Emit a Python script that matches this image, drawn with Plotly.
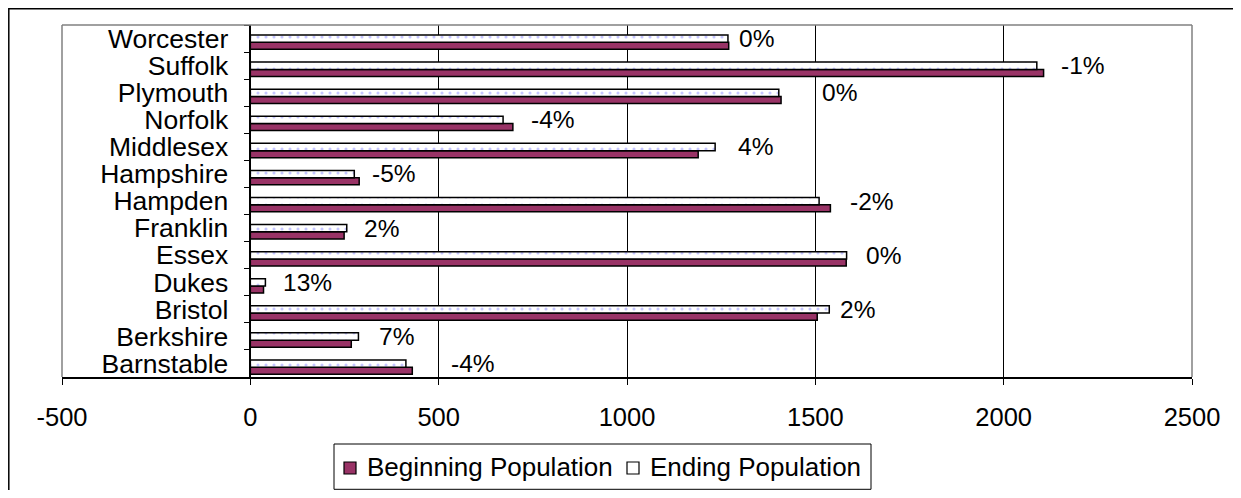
import plotly.graph_objects as go

# ---------------- data ----------------
counties = ["Barnstable", "Berkshire", "Bristol", "Dukes", "Essex", "Franklin",
            "Hampden", "Hampshire", "Middlesex", "Norfolk", "Plymouth", "Suffolk", "Worcester"]
beginning_pop = [430, 268, 1505, 35, 1582, 249, 1540, 289, 1189, 697, 1409, 2106, 1270]
ending_pop = [413, 287, 1537, 40, 1583, 256, 1510, 276, 1234, 671, 1403, 2088, 1268]
pct_labels = ["-4%", "7%", "2%", "13%", "0%", "2%", "-2%", "-5%", "4%", "-4%", "0%", "-1%", "0%"]
x_ticks = [-500, 0, 500, 1000, 1500, 2000, 2500]
series_names = ["Beginning Population", "Ending Population"]

# ---------------- style ----------------
FONT = "Liberation Sans, Arial, sans-serif"
MAROON = "#993366"
PAGE_OFF = 8                      # default body margin of the html page
W, H = 1241 - 2 * PAGE_OFF, 498 - 2 * PAGE_OFF
PL, PR, PT, PB = 62, 1192, 25, 377   # plot area in page pixels
L, T = PL - PAGE_OFF, PT - PAGE_OFF
R, B = W - (PR - PAGE_OFF), H - (PB - PAGE_OFF)
label_gap_px = [37, 19, 9, 16, 17, 15, 18, 11, 21, 16, 39, 15, 8]

pw = PR - PL
ph = PB - PT
def px_x(p):
    return (p - PL) / pw
def px_y(p):
    return (PB - p) / ph

fig = go.Figure()
fig.add_trace(go.Bar(
    name=series_names[0], y=counties, x=beginning_pop, orientation="h",
    offset=-0.40, width=0.26, showlegend=False,
    marker=dict(color=MAROON, line=dict(color="black", width=1.5)),
))
fig.add_trace(go.Bar(
    name=series_names[1], y=counties, x=ending_pop, orientation="h",
    offset=-0.14, width=0.27, showlegend=False,
    marker=dict(color="white", line=dict(color="black", width=1.5),
                pattern=dict(shape=".", fgcolor="#8c8cff", bgcolor="white",
                             size=8, solidity=0.12)),
))

annotations = []
for c, b, e, t, g in zip(counties, beginning_pop, ending_pop, pct_labels, label_gap_px):
    annotations.append(dict(x=max(b, e), y=c, xref="x", yref="y", text=t, showarrow=False,
                            xanchor="left", yanchor="middle", xshift=g,
                            font=dict(family=FONT, size=24.5, color="black")))

# legend (drawn manually to match the original spacing)
legend_text_x = [365, 648]
legend_sym_x = [344, 627]
legend_fill = [MAROON, "white"]
for name, tx in zip(series_names, legend_text_x):
    annotations.append(dict(x=px_x(tx), y=px_y(467), xref="paper", yref="paper", text=name,
                            showarrow=False, xanchor="left", yanchor="middle",
                            font=dict(family=FONT, size=26, color="black")))

shapes = [
    # outer chart border (partly outside the page)
    dict(type="rect", xref="paper", yref="paper", x0=px_x(8.8), x1=px_x(1290),
         y0=px_y(560), y1=px_y(8.8), line=dict(color="black", width=1.5), layer="below"),
    # plot area border (gray) left, top, right
    dict(type="line", xref="paper", yref="paper", x0=0, x1=0, y0=0, y1=1,
         line=dict(color="#808080", width=1.5), layer="above"),
    dict(type="line", xref="paper", yref="paper", x0=0, x1=1, y0=1, y1=1,
         line=dict(color="#808080", width=1.5), layer="above"),
    dict(type="line", xref="paper", yref="paper", x0=1, x1=1, y0=0, y1=1,
         line=dict(color="#808080", width=1.5), layer="above"),
    # legend box
    dict(type="rect", xref="paper", yref="paper", x0=px_x(334), x1=px_x(871),
         y0=px_y(489.3), y1=px_y(444), line=dict(color="black", width=1), layer="below"),
]
for sx, fc in zip(legend_sym_x, legend_fill):
    shapes.append(dict(type="rect", xref="paper", yref="paper", x0=px_x(sx), x1=px_x(sx + 12),
                       y0=px_y(474), y1=px_y(462), fillcolor=fc,
                       line=dict(color="black", width=1.2), layer="above"))

xmin, xmax = x_ticks[0], x_ticks[-1]
fig.update_layout(
    width=W, height=H,
    margin=dict(l=L, r=R, t=T, b=B),
    paper_bgcolor="white", plot_bgcolor="white",
    font=dict(family=FONT, size=25, color="black"),
    barmode="overlay",
    showlegend=False,
    xaxis=dict(range=[xmin, xmax], tickmode="array", tickvals=x_ticks,
               ticktext=[str(v) for v in x_ticks], showgrid=True, gridcolor="black",
               gridwidth=1, zeroline=False, showline=True, linecolor="black", linewidth=1.5,
               ticks="outside", ticklen=6, tickcolor="black", tickwidth=1,
               ticklabelstandoff=11, tickfont=dict(family=FONT, size=25.5, color="black")),
    yaxis=dict(type="category", categoryorder="array", categoryarray=counties,
               tickmode="array", tickvals=counties, ticktext=counties,
               range=[-0.5, len(counties) - 0.5],
               anchor="free", position=(0 - xmin) / (xmax - xmin),
               showline=True, linecolor="black", linewidth=1.5, showgrid=False,
               zeroline=False, ticks="outside", ticklen=6, tickcolor="black",
               tickson="boundaries", ticklabelstandoff=16,
               tickfont=dict(family=FONT, size=26.5, color="black")),
    annotations=annotations,
    shapes=shapes,
)

fig.write_html("out.html")
